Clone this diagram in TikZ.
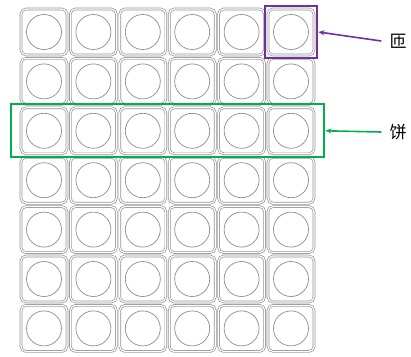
\documentclass[tikz,border=0pt]{standalone}
\usepackage{fontspec}
\newfontfamily\cjk{Noto Sans CJK SC}
\usetikzlibrary{fit,arrows.meta}
\definecolor{turnpurple}{RGB}{112,48,160}
\definecolor{discgreen}{RGB}{0,176,80}

\begin{document}
\begin{tikzpicture}[
    x=1pt, y=-1pt,
    cell/.style={draw=gray!85, double=white, double distance=1.2pt, line width=0.7pt, rounded corners=5pt, minimum size=46pt, inner sep=0pt},
    ring/.style={draw=gray!90, circle, line width=0.7pt, minimum size=35pt, inner sep=0pt},
    mark box/.style={draw, line width=2pt, inner sep=3pt},
    tag/.style={font=\cjk\fontsize{17}{17}\selectfont, inner sep=8pt},
    arr/.style={-{Stealth[length=6pt,width=5pt]}, line width=1.6pt}
]
    \useasboundingbox (0,0) rectangle (411,356);

    % 7 rows x 6 columns of cells
    \foreach \r in {1,...,7}{
        \foreach \c in {1,...,6}{
            \node[cell] (cell-\r-\c) at ({44+(\c-1)*49.4}, {32+(\r-1)*49.4}) {};
            \node[ring] (ring-\r-\c) at (cell-\r-\c) {};
        }
    }

    \node[mark box, draw=turnpurple, fit=(cell-1-6)] (turn) {};
    \node[mark box, draw=discgreen, fit=(cell-3-1)(cell-3-6), inner xsep=10pt] (disc) {};

    \node[tag] (turn-label) at (398,41) {匝};
    \node[tag] (disc-label) at (398,132) {饼};

    \draw[arr, draw=turnpurple, fill=turnpurple] (turn-label.west) -- (turn.east);
    \draw[arr, draw=discgreen, fill=discgreen] (disc-label.west) -- (disc.east);
\end{tikzpicture}
\end{document}
